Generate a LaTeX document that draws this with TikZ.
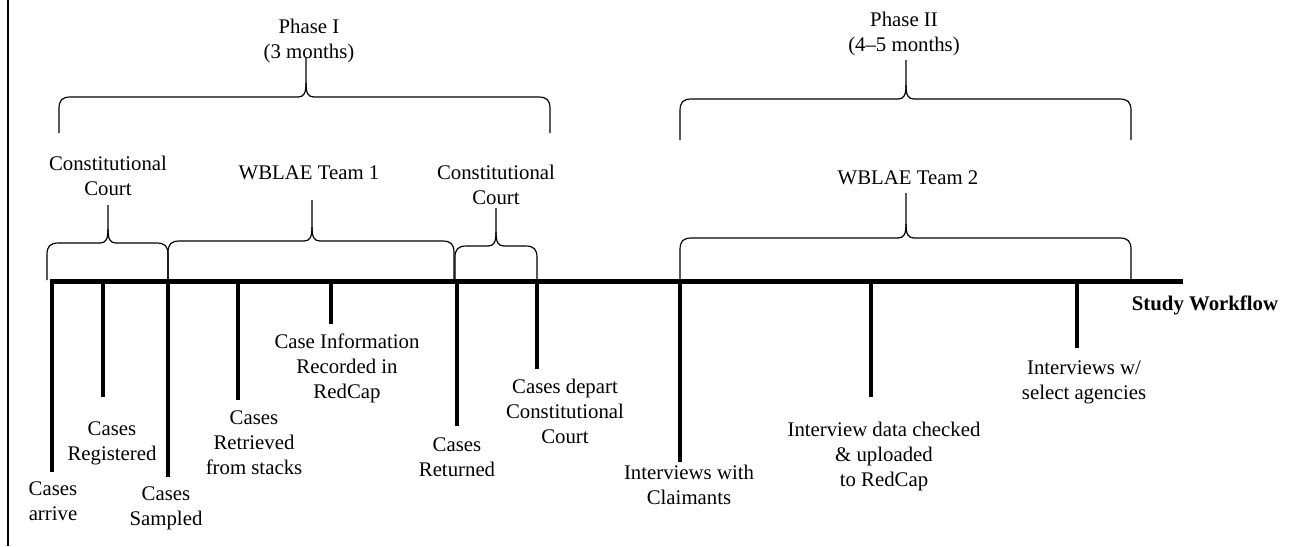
\documentclass[tikz,border=0pt]{standalone}
\usepackage{fontspec}
\setmainfont{Liberation Serif}
\tikzset{
  lbl/.style={font=\fontsize{20.8}{25}\selectfont, align=center, inner sep=0pt},
  axisline/.style={line width=5pt},
  tickline/.style={line width=4.3pt},
  bracestyle/.style={line width=1.2pt, line join=round},
}
% x1, x2, xm, ybot, yh, ytip
\newcommand\wbrace[6]{%
  \draw[bracestyle] (#1,#4) -- (#1,#5+12) .. controls (#1,#5+3) and (#1+3,#5) .. (#1+12,#5)
    -- (#3-8,#5) .. controls (#3-2,#5) and (#3,#5-4) .. (#3,#5-14) -- (#3,#6);
  \draw[bracestyle] (#3,#5-14) .. controls (#3,#5-4) and (#3+2,#5) .. (#3+8,#5)
    -- (#2-12,#5) .. controls (#2-3,#5) and (#2,#5+3) .. (#2,#5+12) -- (#2,#4);
}
\begin{document}
\begin{tikzpicture}[x=1pt,y=-1pt]
\useasboundingbox (0,0) rectangle (1298,546);
% left frame line
\coordinate (f0) at (8,0);
\coordinate (f1) at (8,546);
\draw[line width=2pt] (f0) -- (f1);

% axis
\coordinate (a0) at (50,281);
\coordinate (a1) at (1183,281);
\draw[axisline] (a0) -- (a1);

% ticks
\foreach \n/\x/\y in {1/52/472, 2/103/397, 3/168/477, 4/238/400, 5/331/324,
                      6/457/426, 7/537/369, 8/680/462, 9/871/397, 10/1077/348}{
  \coordinate (t\n) at (\x,280);
  \coordinate (e\n) at (\x,\y);
  \draw[tickline] (t\n) -- (e\n);
}

% tick labels
\node[lbl] (l1) at (53,501.5) {Cases\\arrive};
\node[lbl] (l2) at (112,443) {Cases\\Registered};
\node[lbl] (l3) at (166,508.5) {Cases\\Sampled};
\node[lbl] (l4) at (254,443) {Cases\\Retrieved\\from stacks};
\node[lbl] (l5) at (347,368) {Case Information\\Recorded in\\RedCap};
\node[lbl] (l6) at (457,457) {Cases\\Returned};
\node[lbl] (l7) at (565,411) {Cases depart\\Constitutional\\Court};
\node[lbl] (l8) at (689,484.5) {Interviews with\\Claimants};
\node[lbl] (l9) at (884,456) {Interview data checked\\\&{} uploaded\\to RedCap};
\node[lbl] (l10) at (1084,382.5) {Interviews w/\\select agencies};
\node[lbl, font=\fontsize{20.8}{25}\selectfont\bfseries] (sw) at (1205,305) {Study Workflow};

% group labels
\node[lbl] (cc1) at (108,175.5) {Constitutional\\Court};
\node[lbl] (wt1) at (309,173) {WBLAE Team 1};
\node[lbl] (cc2) at (496,184.5) {Constitutional\\Court};
\node[lbl] (p1) at (309,40.5) {Phase I\\(3 months)};
\node[lbl] (p2) at (904,34) {Phase II\\(4--5 months)};
\node[lbl] (wt2) at (908,178) {WBLAE Team 2};

% braces
\wbrace{59}{550}{306}{133}{97}{57}
\wbrace{47}{168}{108}{280}{243}{205}
\wbrace{168}{454}{312}{279}{241}{200}
\wbrace{455}{537}{496}{279}{246}{208}
\wbrace{680}{1131}{906}{140}{99}{60}
\wbrace{680}{1131}{906}{282}{238}{193}
\end{tikzpicture}
\end{document}
